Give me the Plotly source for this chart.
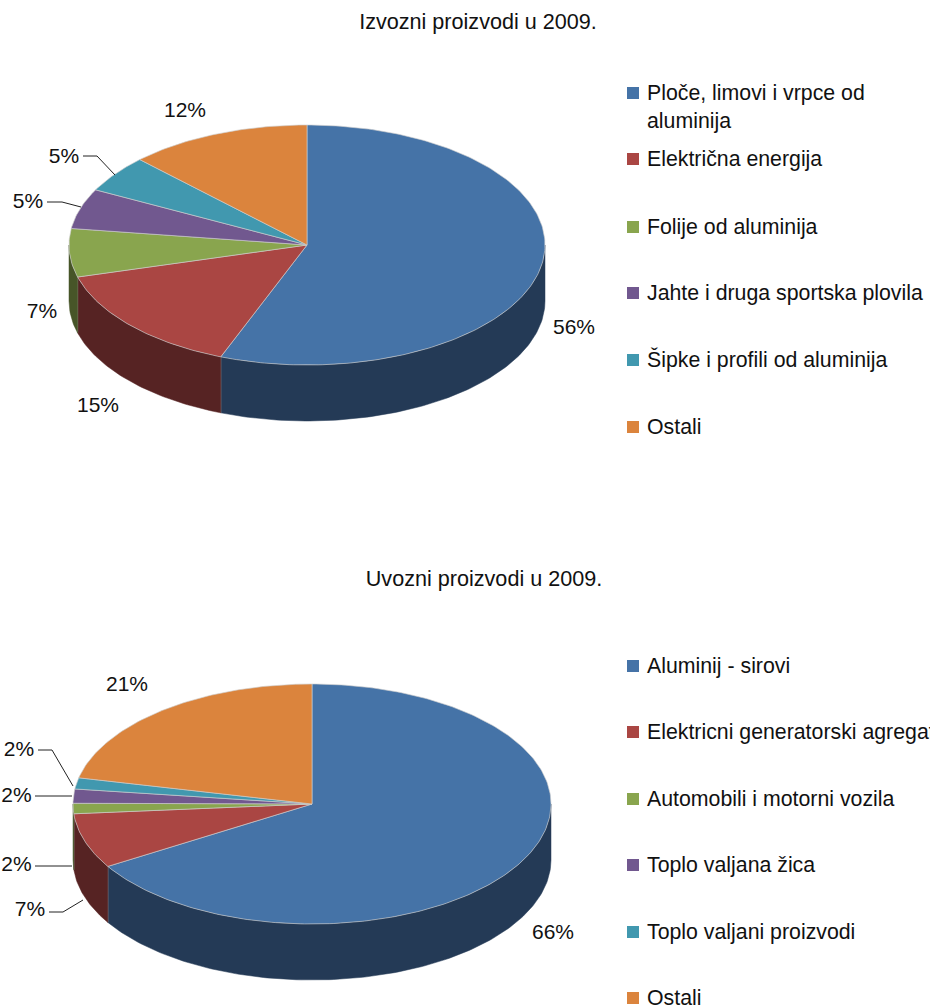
import math
import plotly.graph_objects as go

# ---- data ----
title_izvoz = "Izvozni proizvodi u 2009."
categories_izvoz = ["Ploče, limovi i vrpce od<br>aluminija", "Električna energija", "Folije od aluminija",
                    "Jahte i druga sportska plovila", "Šipke i profili od aluminija", "Ostali"]
values_izvoz = [55.9, 14.8, 6.5, 5.4, 5.0, 12.4]
labels_izvoz = ["56%", "15%", "7%", "5%", "5%", "12%"]

title_uvoz = "Uvozni proizvodi u 2009."
categories_uvoz = ["Aluminij - sirovi", "Elektricni generatorski agregati", "Automobili i motorni vozila",
                   "Toplo valjana žica", "Toplo valjani proizvodi", "Ostali"]
values_uvoz = [66.3, 7.4, 1.4, 1.9, 1.5, 21.5]
labels_uvoz = ["66%", "7%", "2%", "2%", "2%", "21%"]

# ---- style / layout ----
TOP = ["#4573A7", "#AA4643", "#89A54E", "#71588F", "#4198AF", "#DB843D"]
SIDE = ["#243A56", "#562323", "#475528", "#3A2D4A", "#21505B", "#724520"]
FONT = "Liberation Sans, Arial, sans-serif"
FS = 21.3
FS_PCT = 21
TXT = "#111111"
EDGE = "rgba(205,205,205,0.9)"
DY = 2  # text baseline offset

PIES = [
    dict(title=title_izvoz, cats=categories_izvoz, vals=values_izvoz, labs=labels_izvoz,
         cx=307, cy=245, rx=238, ry=120, depth=56, title_xy=(479, 22),
         leg_y=[93, 159, 227, 293, 360, 427],
         lab_xy=[(574, 327), (98, 405), (42, 311), (28, 201), (64, 156), (185, 110)],
         leaders=[None, None, None, [(47, 202), (62, 202), (81, 207)], [(83, 156), (97, 156), (115, 175)], None]),
    dict(title=title_uvoz, cats=categories_uvoz, vals=values_uvoz, labs=labels_uvoz,
         cx=312, cy=804, rx=239, ry=120, depth=56, title_xy=(485, 579),
         leg_y=[666, 732, 799, 865, 932, 998],
         lab_xy=[(553, 932), (30, 909), (16.5, 864), (16.5, 795), (19, 749), (127, 684)],
         leaders=[None, [(49, 912), (63, 912), (83, 900)], [(35, 866), (72, 866)], [(35, 796), (72, 796)],
                  [(38, 750), (52, 750), (73, 786)], None]),
]

fig = go.Figure()


def arc(p, a0, a1, dz=0):
    n = max(2, int(abs(a1 - a0) / 1.0) + 2)
    xs, ys = [], []
    for i in range(n):
        a = math.radians(a0 + (a1 - a0) * i / (n - 1))
        xs.append(p["cx"] + p["rx"] * math.sin(a))
        ys.append(p["cy"] - p["ry"] * math.cos(a) + dz)
    return xs, ys


for p in PIES:
    total = sum(p["vals"])
    angles = [0]
    for v in p["vals"]:
        angles.append(angles[-1] + v / total * 360)

    # outer wall (front half only)
    for i in range(len(p["vals"])):
        a0, a1 = max(angles[i], 90), min(angles[i + 1], 270)
        if a1 <= a0:
            continue
        tx, ty = arc(p, a0, a1)
        bx, by = arc(p, a1, a0, p["depth"])
        fig.add_trace(go.Scatter(x=tx + bx + tx[:1], y=ty + by + ty[:1], mode="lines", fill="toself",
                                 fillcolor=SIDE[i], line=dict(color=SIDE[i], width=0.5), hoverinfo="skip"))
        # wall seam
        if 90 < angles[i + 1] < 270:
            fig.add_trace(go.Scatter(x=[tx[-1], bx[0]], y=[ty[-1], by[0]], mode="lines",
                                     line=dict(color="rgba(190,190,190,0.9)", width=0.8), hoverinfo="skip"))

    # top faces
    for i in range(len(p["vals"])):
        ax, ay = arc(p, angles[i], angles[i + 1])
        fig.add_trace(go.Scatter(x=[p["cx"]] + ax + [p["cx"]], y=[p["cy"]] + ay + [p["cy"]], mode="lines",
                                 fill="toself", fillcolor=TOP[i], line=dict(color=EDGE, width=0.7),
                                 hoverinfo="skip"))

    # leader lines
    for pts in p["leaders"]:
        if pts:
            fig.add_trace(go.Scatter(x=[q[0] for q in pts], y=[q[1] for q in pts], mode="lines",
                                     line=dict(color="#222222", width=1), hoverinfo="skip"))

    # percent labels and title
    fig.add_trace(go.Scatter(x=[q[0] for q in p["lab_xy"]], y=[q[1] + DY for q in p["lab_xy"]], mode="text",
                             text=p["labs"], textposition="middle center",
                             textfont=dict(family=FONT, size=FS_PCT, color=TXT), hoverinfo="skip"))
    fig.add_trace(go.Scatter(x=[p["title_xy"][0] - 1], y=[p["title_xy"][1] + DY], mode="text", text=[p["title"]],
                             textposition="middle center", textfont=dict(family=FONT, size=21.6, color=TXT),
                             hoverinfo="skip"))

    # legend
    fig.add_trace(go.Scatter(x=[633] * 6, y=p["leg_y"], mode="markers",
                             marker=dict(symbol="square", size=12, color=TOP, line=dict(width=0)), hoverinfo="skip"))
    lx, ly, lt = [], [], []
    for y, cat in zip(p["leg_y"], p["cats"]):
        for k, line in enumerate(cat.split("<br>")):
            lx.append(647)
            ly.append(y + k * 28 + DY)
            lt.append(line)
    fig.add_trace(go.Scatter(x=lx, y=ly, mode="text", text=lt, textposition="middle right",
                             textfont=dict(family=FONT, size=FS, color=TXT), hoverinfo="skip"))

fig.update_layout(
    width=930, height=1007, autosize=False, showlegend=False,
    margin=dict(l=0, r=0, t=0, b=0), paper_bgcolor="white", plot_bgcolor="white",
    xaxis=dict(range=[0, 930], visible=False, fixedrange=True),
    yaxis=dict(range=[1007, 0], visible=False, fixedrange=True),
)
fig.write_html("out.html", config={"displayModeBar": False},
               post_script="document.body.style.margin='0';document.body.style.overflow='hidden';")
